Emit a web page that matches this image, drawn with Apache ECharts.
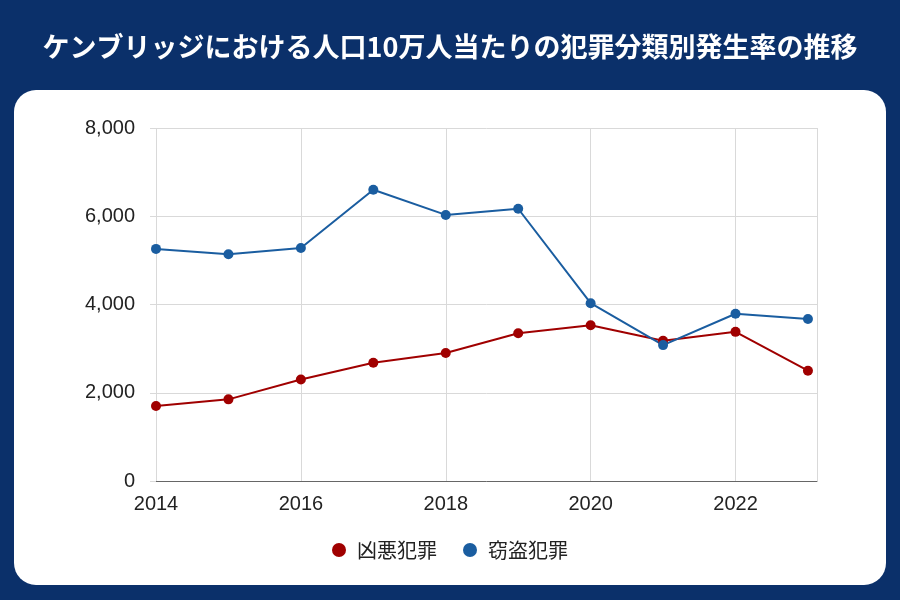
<!DOCTYPE html>
<html><head><meta charset="utf-8">
<style>html,body{margin:0;padding:0;background:#0b306a;}#c{width:900px;height:600px;}</style>
<script src="https://cdn.jsdelivr.net/npm/echarts@6/dist/echarts.min.js"></script>
</head><body><div id="c"></div>
<script>
const years = [2014,2015,2016,2017,2018,2019,2020,2021,2022,2023];
const violent = [1700,1850,2300,2680,2900,3350,3530,3180,3380,2500];
const theft = [5260,5140,5280,6600,6030,6170,4030,3080,3790,3670];
const seriesNames = ['凶悪犯罪','窃盗犯罪'];
const titleText = 'ケンブリッジにおける人口10万人当たりの犯罪分類別発生率の推移';

const chart = echarts.init(document.getElementById('c'));
chart.setOption({
  backgroundColor: '#0b306a',
  animation: false,
  title: {
    text: titleText, left: 'center', top: 24,
    textStyle: {color:'#fff', fontSize: 27, fontWeight: 'bold', fontFamily: 'Noto Sans CJK JP', lineHeight: 36}
  },
  graphic: [{
    type: 'rect', z: -1, silent: true,
    shape: {x: 14, y: 90, width: 872, height: 495, r: 22},
    style: {fill: '#fff'}
  }],
  grid: {left: 156, right: 83, top: 128, bottom: 119, containLabel: false},
  legend: {
    top: 535, left: 'center', icon: 'circle', itemWidth: 14, itemHeight: 14, itemGap: 26,
    textStyle: {fontSize: 20, color: '#222', fontFamily: 'Noto Sans CJK JP', padding: [0,0,0,6]},
    data: seriesNames
  },
  xAxis: {
    type: 'value', min: 2014, max: 2023.125, interval: 2,
    axisLine: {show: true, lineStyle: {color: '#666', width: 1}},
    axisTick: {show: false},
    splitLine: {show: true, lineStyle: {color: '#d9d9d9'}},
    axisLabel: {showMaxLabel: false, fontSize: 20, color: '#222', fontFamily: 'Liberation Sans', margin: 13,
      formatter: v => String(v)}
  },
  yAxis: {
    type: 'value', min: 0, max: 8000, interval: 2000,
    axisLine: {show: false},
    axisTick: {show: true, length: 6, lineStyle: {color: '#d9d9d9'}},
    splitLine: {lineStyle: {color: '#d9d9d9'}},
    axisLabel: {fontSize: 20, color: '#222', fontFamily: 'Liberation Sans', margin: 21,
      formatter: v => v.toLocaleString('en-US')}
  },
  series: [
    {name: seriesNames[0], type: 'line', data: years.map((y,i)=>[y, violent[i]]),
     symbol: 'circle', symbolSize: 10, color: '#a00000', lineStyle: {width: 2}},
    {name: seriesNames[1], type: 'line', data: years.map((y,i)=>[y, theft[i]]),
     symbol: 'circle', symbolSize: 10, color: '#1a5da0', lineStyle: {width: 2}}
  ]
});
</script></body></html>
